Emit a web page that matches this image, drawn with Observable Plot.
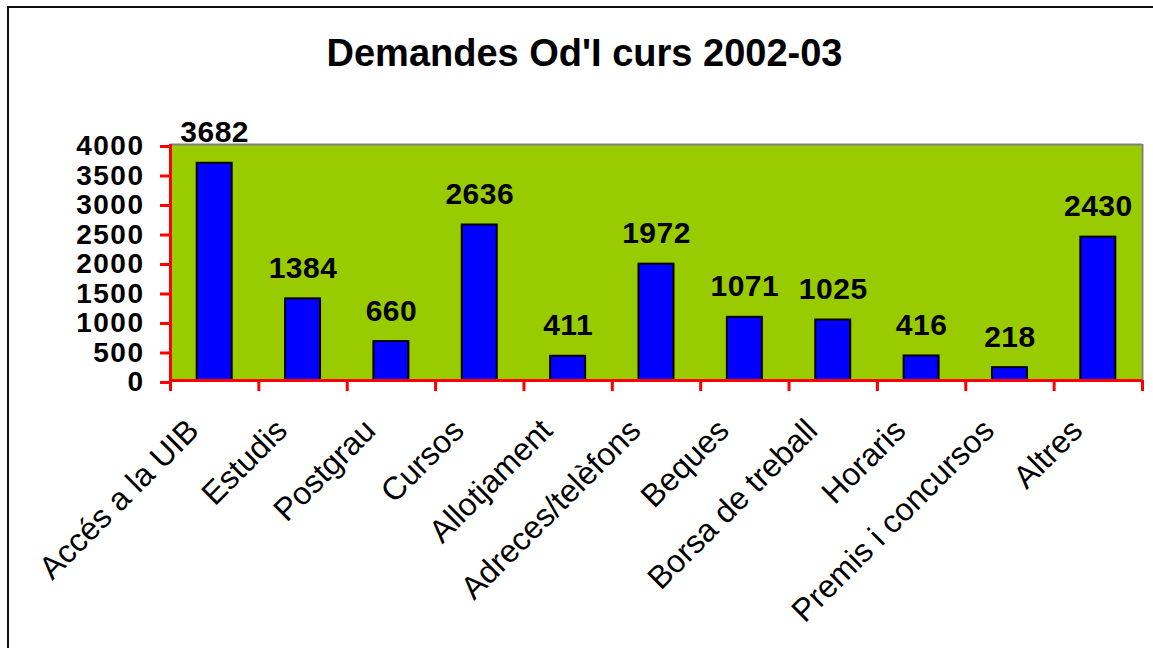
<!DOCTYPE html>
<html><head><meta charset="utf-8">
<script src="https://cdn.jsdelivr.net/npm/d3@7"></script>
<script src="https://cdn.jsdelivr.net/npm/@observablehq/plot@0.6"></script>
<style>
html,body{margin:0;padding:0;background:#fff;}
body{width:1153px;height:648px;overflow:hidden;position:relative;font-family:"Liberation Sans",Arial,sans-serif;color:#000;}
#border{position:absolute;left:7px;top:6px;width:1300px;height:800px;border-top:2px solid #111;border-left:2px solid #111;}
#title{position:relative;height:100px;box-sizing:border-box;padding-top:34px;padding-left:16px;text-align:center;font-size:38px;line-height:38px;font-weight:bold;}
#chart{position:relative;}
</style>
</head><body>
<div id="border"></div>
<div id="title"></div>
<div id="chart"></div>
<script>
const title = "Demandes Od'I curs 2002-03";
const categories = ["Accés a la UIB","Estudis","Postgrau","Cursos","Allotjament","Adreces/telèfons","Beques","Borsa de treball","Horaris","Premis i concursos","Altres"];
const values = [3682,1384,660,2636,411,1972,1071,1025,416,218,2430];
const yTicks = [0,500,1000,1500,2000,2500,3000,3500,4000];

document.getElementById("title").textContent = title;
const data = categories.map((c,i)=>({category:c, value:values[i]}));

const W = 1153, H = 548, mL = 170, mR = 11, mT = 44, mB = 268;
const step = (W - mL - mR) / categories.length;
const font = "'Liberation Sans', Arial, sans-serif";

const svg = Plot.plot({
  width: W, height: H,
  marginTop: mT, marginBottom: mB, marginLeft: mL, marginRight: mR,
  style: {fontFamily: font, background: "transparent", color: "#000", overflow: "visible"},
  x: {type: "band", domain: categories, paddingInner: 0.604, paddingOuter: 0.302, round: false},
  y: {domain: [0, 4000]},
  marks: [
    Plot.frame({fill: "#99CC00", stroke: null}),
    Plot.ruleY([4000], {stroke: "#808080", strokeWidth: 2}),
    Plot.ruleX([categories[categories.length-1]], {dx: step/2, stroke: "#808080", strokeWidth: 2}),
    Plot.barY(data, {x: "category", y: "value", fill: "#0000FF", stroke: "#000", strokeWidth: 2}),
    Plot.text(data, {x: "category", y: "value", text: d => String(d.value), dy: -21, lineAnchor: "bottom", fontSize: 30, fontWeight: "bold", fill: "#000"}),
    Plot.ruleX([categories[0]], {dx: -step/2, stroke: "#FF0000", strokeWidth: 3}),
    Plot.ruleY([0], {stroke: "#FF0000", strokeWidth: 3}),
    Plot.axisY({ticks: yTicks, tickSize: 10, tickPadding: 16, stroke: "#FF0000", strokeWidth: 3, fill: "#000", fontSize: 28, fontWeight: "bold", dy: 2, tickFormat: d => String(d), label: null}),
    Plot.axisX({ticks: categories, tickSize: 11, dx: -step/2, stroke: "#FF0000", strokeWidth: 3, tickFormat: () => "", label: null}),
    Plot.axisX({ticks: [categories[categories.length-1]], tickSize: 11, dx: step/2, stroke: "#FF0000", strokeWidth: 3, tickFormat: () => "", label: null}),
    Plot.text(categories, {x: d => d, text: d => d, frameAnchor: "bottom", rotate: -45, textAnchor: "end", lineAnchor: "bottom", dx: -14, dy: 52, fontSize: 32, fill: "#000"})
  ]
});
document.getElementById("chart").appendChild(svg);
const textGroups = d3.select(svg).selectAll('g[aria-label="text"]').nodes();
if (textGroups[0]) d3.select(textGroups[0]).selectAll("text").style("letter-spacing", "0.5px");
d3.select(svg).selectAll('g[aria-label="y-axis tick label"] text').style("letter-spacing", "1.5px").style("font-weight", "bold");
</script>
</body></html>
